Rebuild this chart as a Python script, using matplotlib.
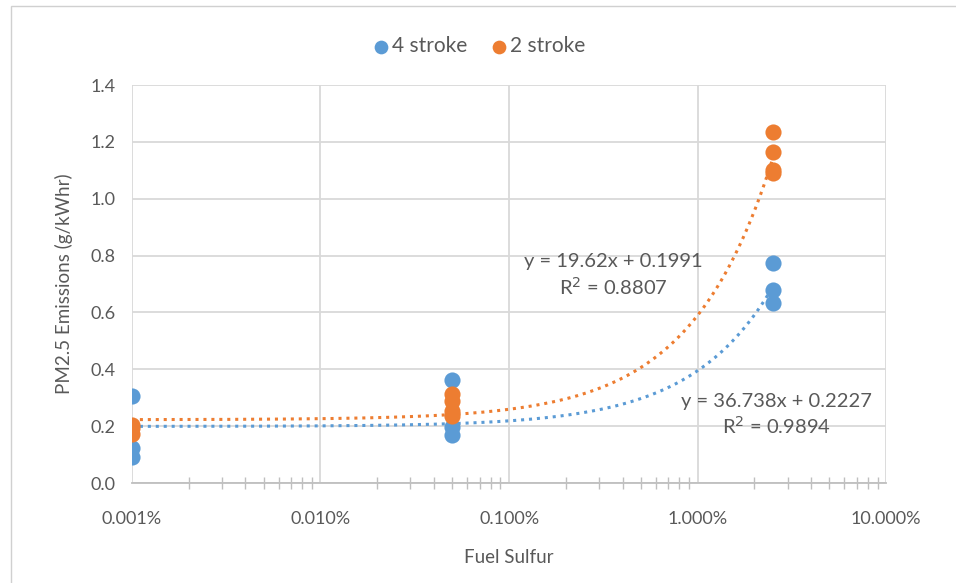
import numpy as np
import matplotlib
matplotlib.use("Agg")
import matplotlib.pyplot as plt
from matplotlib.ticker import FuncFormatter, LogLocator, FixedLocator
from matplotlib.patches import Rectangle

plt.rcParams['font.family'] = ['Lato', 'DejaVu Sans']

# Fuel sulfur (mass fraction) and PM2.5 emissions (g/kWhr)
x4 = [0.00001, 0.00001, 0.00001, 0.0005, 0.0005, 0.0005, 0.025, 0.025, 0.025]
y4 = [0.305, 0.123, 0.091, 0.362, 0.197, 0.169, 0.774, 0.679, 0.633]
x2 = [0.00001, 0.00001, 0.00001, 0.0005, 0.0005, 0.0005, 0.0005, 0.025, 0.025, 0.025, 0.025]
y2 = [0.205, 0.195, 0.172, 0.312, 0.288, 0.255, 0.235, 1.236, 1.166, 1.100, 1.090]

# Linear trendline coefficients (slope, intercept) and R²
fit4 = (19.62, 0.1991)
fit2 = (36.738, 0.2227)
eq_labels = ["y = 19.62x + 0.1991\nR$^2$ = 0.8807", "y = 36.738x + 0.2227\nR$^2$ = 0.9894"]

blue = "#5B9BD5"
orange = "#ED7D31"
grid_c = "#D9D9D9"
text_c = "#595959"

fig = plt.figure(figsize=(9.56, 5.83), dpi=100)
fig.patches.append(Rectangle((0.011, -0.01), 0.999, 1.0, transform=fig.transFigure,
                             fill=False, edgecolor="#D0D0D0", linewidth=1.0))
ax = fig.add_axes([0.138, 0.1715, 0.789, 0.6825])

ax.set_xscale("log")
ax.set_xlim(1e-5, 1e-1)
ax.set_ylim(0, 1.4)

# Trendlines across the data range
xs = np.logspace(np.log10(min(x4)), np.log10(max(x4)), 300)
ax.plot(xs, fit4[0] * xs + fit4[1], linestyle=(0, (1, 1.6)), color=blue, linewidth=2.2, zorder=2)
ax.plot(xs, fit2[0] * xs + fit2[1], linestyle=(0, (1, 1.6)), color=orange, linewidth=2.2, zorder=2)

ax.scatter(x4, y4, s=135, color=blue, label="4 stroke", zorder=3, linewidths=0)
ax.scatter(x2, y2, s=135, color=orange, label="2 stroke", zorder=4, linewidths=0)

ax.text(0.00356, 0.73, eq_labels[0], ha="center", va="center", fontsize=14.5,
        color=text_c, linespacing=1.3)
ax.text(0.0262, 0.24, eq_labels[1], ha="center", va="center", fontsize=14.5,
        color=text_c, linespacing=1.3)

# Grid and axes styling
ax.set_yticks(np.arange(0, 1.41, 0.2))
ax.yaxis.set_major_formatter(FuncFormatter(lambda v, p: f"{v:.1f}"))
ax.xaxis.set_major_locator(FixedLocator([1e-5, 1e-4, 1e-3, 1e-2, 1e-1]))
ax.xaxis.set_minor_locator(LogLocator(base=10, subs=np.arange(2, 10), numticks=20))
ax.xaxis.set_major_formatter(FuncFormatter(lambda v, p: f"{v*100:.3f}%"))
ax.grid(True, which="major", color=grid_c, linewidth=1.3, zorder=0)
ax.set_axisbelow(True)
for s in ["top", "right", "left"]:
    ax.spines[s].set_visible(False)
ax.spines["bottom"].set_color("#BFBFBF")
ax.spines["bottom"].set_linewidth(1.3)
ax.tick_params(axis="x", which="major", direction="inout", length=0, colors=text_c,
               labelsize=13, pad=20)
ax.tick_params(axis="x", which="minor", direction="inout", length=9, color="#BFBFBF",
               width=1.0, labelbottom=False)
ax.tick_params(axis="y", length=0, colors=text_c, labelsize=13, pad=12)

ax.set_xlabel("Fuel Sulfur", fontsize=13.5, color=text_c, labelpad=16)
ax.set_ylabel("PM2.5 Emissions (g/kWhr)", fontsize=13.5, color=text_c, labelpad=12)

leg = fig.legend(loc="center", bbox_to_anchor=(0.5, 0.921), ncol=2, frameon=False,
                 fontsize=15, handletextpad=0.05, columnspacing=1.0, markerscale=0.85,
                 handlelength=1.0)
for t in leg.get_texts():
    t.set_color(text_c)

fig.savefig("out.png", dpi=100)
